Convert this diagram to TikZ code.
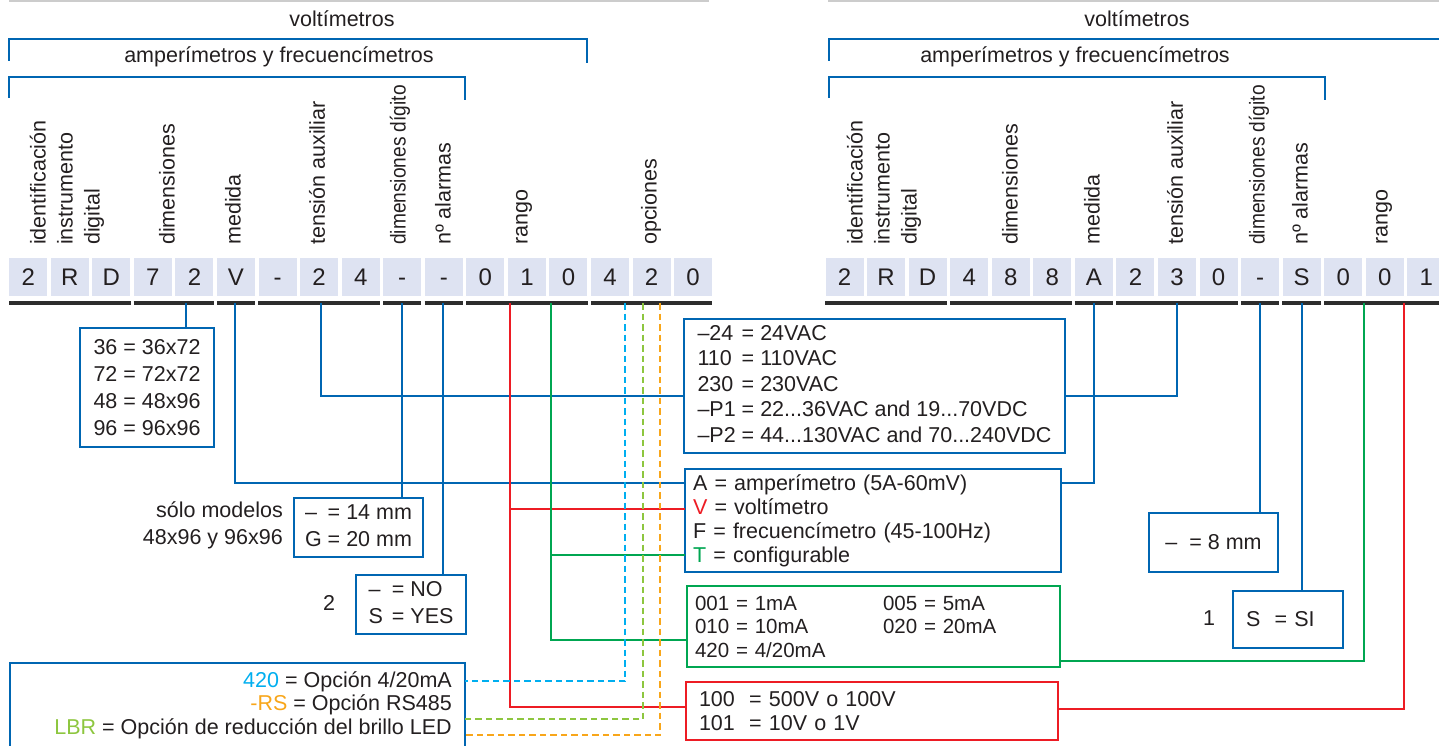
\documentclass[tikz,border=0pt]{standalone}
\usepackage{fontspec}
\setmainfont{Liberation Sans}
\usepackage{tikz}
\definecolor{lineblue}{RGB}{0, 102, 178}
\definecolor{linered}{RGB}{237, 28, 36}
\definecolor{linegreen}{RGB}{0, 166, 81}
\definecolor{optcyan}{RGB}{0, 174, 239}
\definecolor{optlime}{RGB}{141, 198, 63}
\definecolor{optorange}{RGB}{248, 166, 26}
\definecolor{codefill}{RGB}{222, 227, 242}
\definecolor{bargray}{RGB}{45, 45, 45}
\definecolor{topgray}{RGB}{204, 204, 204}
\definecolor{ink}{RGB}{35, 31, 32}

\begin{document}
\begin{tikzpicture}[x=1pt, y=-1pt,
  every node/.style={font=\fontsize{21.5}{27}\selectfont, text=ink},
  wire/.style={draw=lineblue, line width=2.6pt},
  redwire/.style={draw=linered, line width=2.6pt},
  greenwire/.style={draw=linegreen, line width=2.6pt},
  dashwire/.style={line width=2.2pt, dash pattern=on 6.5pt off 4pt},
  infobox/.style={draw=lineblue, line width=2.6pt, anchor=north west, inner sep=0pt, outer sep=0pt},
  codebox/.style={fill=codefill, minimum width=38pt, minimum height=38pt, inner sep=0pt, text height=17pt, text depth=0pt, font=\fontsize{24}{28}\selectfont},
  bar/.style={draw=bargray, line width=3.5pt},
  vlabel/.style={rotate=90, anchor=west, align=left, inner sep=0pt}]
  \clip (0, 0) rectangle (1439, 746);

  % header lines and brackets
  \draw [topgray, line width=3pt] (9, 1) -- (709, 1);
  \draw [topgray, line width=3pt] (828, 1) -- (1439, 1);
  \node (voltL) at (342, 19) {voltímetros};
  \node (voltR) at (1137, 19) {voltímetros};
  \draw [wire] (9, 61) |- (587, 39) -- (587, 63);
  \draw [wire] (829, 61) |- (1445, 39);
  \node (ampL) at (279, 57) {amperímetros y frecuencímetros};
  \node (ampR) at (1075, 57) {amperímetros y frecuencímetros};
  \draw [wire] (9, 98) |- (465, 77) -- (465, 100);
  \draw [wire] (829, 98) |- (1325, 77) -- (1325, 100);

  % column titles
  \node [vlabel] (hIdL) at (67, 245) {identificación\\instrumento\\digital};
  \foreach \x/\t [count=\k] in {167/dimensiones, 233/medida, 317/tensión auxiliar, 443/nº alarmas, 524/rango, 651/opciones}
    \node [vlabel] (hL\k) at (\x, 245) {\t};
  \node [vlabel] (hDigL) at (400, 245) {\scalebox{0.89}[1]{dimensiones dígito}};
  \node [vlabel] (hIdR) at (884, 245) {identificación\\instrumento\\digital};
  \foreach \x/\t [count=\k] in {1010/dimensiones, 1092/medida, 1175/tensión auxiliar, 1300/nº alarmas, 1384/rango}
    \node [vlabel] (hR\k) at (\x, 245) {\t};
  \node [vlabel] (hDigR) at (1259, 245) {\scalebox{0.89}[1]{dimensiones dígito}};

  % code boxes
  \foreach \ch [count=\i from 0] in {2,R,D,7,2,V,-,2,4,-,-,0,1,0,4,2,0}
    \node [codebox] (L\i) at ({28.2 + 41.56*\i}, 277) {\ch};
  \foreach \ch [count=\i from 0] in {2,R,D,4,8,8,A,2,3,0,-,S,0,0,1}
    \node [codebox] (R\i) at ({844.5 + 41.56*\i}, 277) {\ch};
  \foreach \a/\b in {0/2, 3/4, 5/5, 6/8, 9/9, 10/10, 11/13, 14/16}
    \draw [bar] ([yshift=-7pt]L\a.south west) -- ([yshift=-7pt]L\b.south east);
  \foreach \a/\b in {0/2, 3/5, 6/6, 7/9, 10/10, 11/11, 12/14}
    \draw [bar] ([yshift=-7pt]R\a.south west) -- ([yshift=-7pt]R\b.south east);

  % left boxes
  \node [infobox, minimum width=134pt, minimum height=119pt, align=left] (dimbox) at (80, 328)
    {36 = 36x72\\72 = 72x72\\48 = 48x96\\96 = 96x96};
  \node [infobox, minimum width=129pt, minimum height=59pt] (digbox) at (294, 498)
    {\begin{tabular}{@{}l@{ }l@{}}– & = 14 mm\\G & = 20 mm\end{tabular}};
  \node [anchor=east, align=right, inner sep=0pt] (solo) at (283, 525) {sólo modelos\\48x96 y 96x96};
  \node [infobox, minimum width=110pt, minimum height=59pt] (nobox) at (356, 575)
    {\begin{tabular}{@{}l@{\hspace{9pt}}l@{}}– & = NO\\S & = YES\end{tabular}};
  \node (nalarm) at (329, 603) {2};
  \node [infobox, minimum width=455pt, minimum height=100pt] (optbox) at (10, 663) {};
  \node [anchor=east, align=right, inner sep=0pt, font=\fontsize{21.5}{23.5}\selectfont] (optlist) at (452, 705)
    {\textcolor{optcyan}{420} = Opción 4/20mA\\\textcolor{optorange}{-RS} = Opción RS485\\\textcolor{optlime}{LBR} = Opción de reducción del brillo LED};

  % middle boxes
  \node [infobox, minimum width=381pt, minimum height=134pt, font=\fontsize{21.5}{25.5}\selectfont] (tenbox) at (684, 319)
    {\begin{tabular}{@{}l@{ }l@{}}–24 & = 24VAC\\110 & = 110VAC\\230 & = 230VAC\\–P1 & = 22...36VAC and 19...70VDC\\–P2 & = 44...130VAC and 70...240VDC\end{tabular}};
  \node [infobox, minimum width=376pt, minimum height=103pt, inner xsep=8pt, text width=360pt, align=left, font=\fontsize{21.5}{24}\selectfont] (medbox) at (685, 469)
    {A = amperímetro (5A-60mV)\\\textcolor{linered}{V} = voltímetro\\F = frecuencímetro (45-100Hz)\\\textcolor{linegreen}{T} = configurable};
  \node [infobox, draw=linegreen, minimum width=373pt, minimum height=81pt, inner xsep=8pt, text width=357pt, align=left, font=\fontsize{20.5}{23.5}\selectfont] (rngbox) at (687, 586)
    {\makebox[188pt][l]{001 = 1mA}005 = 5mA\\\makebox[188pt][l]{010 = 10mA}020 = 20mA\\420 = 4/20mA};
  \node [infobox, draw=linered, minimum width=372pt, minimum height=58pt, inner xsep=13pt, text width=346pt, align=left, font=\fontsize{21.5}{24}\selectfont] (vbox) at (686, 682)
    {100\ \ = 500V o 100V\\101\ \ = 10V o 1V};

  % right boxes
  \node [infobox, minimum width=129pt, minimum height=59pt] (mmbox) at (1149, 513) {–\ \ = 8 mm};
  \node [infobox, minimum width=110pt, minimum height=57pt, inner xsep=13pt, text width=84pt, align=left] (sibox) at (1233, 591) {S\ \ = SI};
  \node (nalarmR) at (1209, 618) {1};

  % taps on the code bars
  \coordinate (tDim) at (186, 303);
  \coordinate (tMed) at (235, 303);
  \coordinate (tTen) at (321, 303);
  \coordinate (tDig) at (402, 303);
  \coordinate (tAl) at (443, 303);
  \coordinate (tRed) at (510, 303);
  \coordinate (tGrn) at (551, 303);
  \coordinate (tCy) at (625, 303);
  \coordinate (tLim) at (643, 303);
  \coordinate (tOr) at (660, 303);
  \coordinate (rMed) at (1094, 303);
  \coordinate (rTen) at (1177, 303);
  \coordinate (rDig) at (1260, 303);
  \coordinate (rAl) at (1302, 303);
  \coordinate (rGrn) at (1364, 303);
  \coordinate (rRed) at (1404, 303);
  \coordinate (rowV) at ([yshift=-40pt]medbox.north west);
  \coordinate (rowT) at ([yshift=-86pt]medbox.north west);

  % connectors
  \draw [wire] (tDim) -- (tDim |- dimbox.north);
  \draw [wire] (tMed) |- ([yshift=-14pt]medbox.north west);
  \draw [wire] (rMed) |- ([yshift=-14pt]medbox.north east);
  \draw [wire] (tTen) |- ([yshift=-77pt]tenbox.north west);
  \draw [wire] (rTen) |- ([yshift=-77pt]tenbox.north east);
  \draw [wire] (tDig) -- (tDig |- digbox.north);
  \draw [wire] (tAl) -- (tAl |- nobox.north);
  \draw [wire] (rDig) -- (rDig |- mmbox.north);
  \draw [wire] (rAl) -- (rAl |- sibox.north);
  \draw [redwire] (tRed) |- ([yshift=-25pt]vbox.north west);
  \draw [redwire] (tRed |- rowV) -- (rowV);
  \draw [redwire] (rRed) |- ([yshift=-27pt]vbox.north east);
  \draw [greenwire] (tGrn) |- ([yshift=-54pt]rngbox.north west);
  \draw [greenwire] (tGrn |- rowT) -- (rowT);
  \draw [greenwire] (rGrn) |- ([yshift=-75pt]rngbox.north east);
  \draw [dashwire, optcyan] (tCy) |- ([yshift=-18pt]optbox.north east);
  \draw [dashwire, optlime] (tLim) |- ([yshift=-56pt]optbox.north east);
  \draw [dashwire, optorange] (tOr) |- ([yshift=-72pt]optbox.north east);

\end{tikzpicture}
\end{document}
